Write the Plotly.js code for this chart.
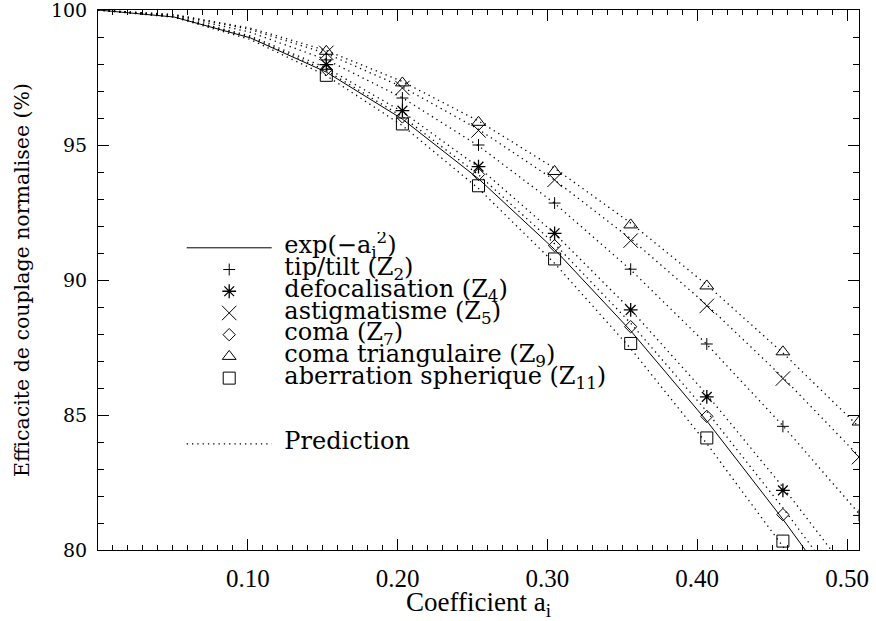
<!DOCTYPE html>
<html><head><meta charset="utf-8">
<script src="https://cdn.plot.ly/plotly-3.0.1.min.js"></script>
<style>html,body{margin:0;padding:0;background:#fff}#chart{width:876px;height:621px}</style>
</head><body><div id="chart"></div>
<script>
// Coefficient a_i sampling of the curves
const xLine = [0, 0.0508, 0.1016, 0.1524, 0.2032, 0.254, 0.3048, 0.3556, 0.4064, 0.4572, 0.508];
// Coefficient a_i of the measured points
const xMarkers = [0.1524, 0.2032, 0.254, 0.3048, 0.3556, 0.4064, 0.4572, 0.508];

// exp(-a_i^2) in %
const expCurve = [100, 99.74, 98.97, 97.70, 95.96, 93.75, 91.13, 88.12, 84.78, 81.14, 77.26];

// measured points (%)
const tipTilt    = [98.15, 96.74, 95.00, 92.85, 90.40, 87.63, 84.58, 81.28];
const defocus    = [97.98, 96.27, 94.20, 91.73, 88.89, 85.67, 82.21];
const astig      = [98.41, 97.11, 95.54, 93.71, 91.46, 89.04, 86.35, 83.44];
const coma       = [97.80, 96.04, 93.91, 91.27, 88.27, 84.95, 81.31];
const comaTri    = [98.47, 97.30, 95.84, 94.02, 92.04, 89.78, 87.34, 84.74];
const spherical  = [97.58, 95.78, 93.49, 90.78, 87.65, 84.15, 80.33];

// predictions (%)
const predTipTilt   = [100, 99.79, 99.18, 98.16, 96.75, 94.97, 92.84, 90.38, 87.62, 84.60, 81.35];
const predDefocus   = [100, 99.76, 99.04, 97.86, 96.23, 94.18, 91.72, 88.90, 85.76, 82.33, 78.66];
const predAstig     = [100, 99.82, 99.28, 98.39, 97.15, 95.58, 93.70, 91.53, 89.08, 86.39, 83.47];
const predComa      = [100, 99.75, 99.00, 97.76, 96.05, 93.90, 91.34, 88.40, 85.13, 81.56, 77.76];
const predComaTri   = [100, 99.83, 99.33, 98.50, 97.35, 95.89, 94.14, 92.11, 89.82, 87.30, 84.56];
const predSpherical = [100, 99.73, 98.91, 97.57, 95.72, 93.39, 90.62, 87.46, 83.94, 80.13, 76.07];

const xTickVals = [0.1, 0.2, 0.3, 0.4, 0.5];
const xTickText = ['0.10', '0.20', '0.30', '0.40', '0.50'];
const yTickVals = [80, 85, 90, 95, 100];

const names = {
  exp: 'exp(\u2212a<sub>i</sub><sup>2</sup>)',
  tip: 'tip/tilt (Z<sub>2</sub>)',
  def: 'defocalisation (Z<sub>4</sub>)',
  ast: 'astigmatisme (Z<sub>5</sub>)',
  com: 'coma (Z<sub>7</sub>)',
  tri: 'coma triangulaire (Z<sub>9</sub>)',
  sph: 'aberration spherique (Z<sub>11</sub>)',
  pred: 'Prediction'
};

const LBIG = s => '<span style="font-size:24px">\u00A0' + s + '</span>';

const black = '#000';
function markerTrace(y, name, symbol, size, lw) {
  return {
    x: xMarkers.slice(0, y.length), y: y, mode: 'markers', type: 'scatter',
    name: LBIG(name), legendgroup: 'meas',
    marker: {symbol: symbol, size: size, color: black, line: {color: black, width: lw || 1}},
    hoverinfo: 'x+y'
  };
}
function predTrace(y, show) {
  return {
    x: xLine, y: y, mode: 'lines', type: 'scatter',
    name: LBIG(names.pred), legendgroup: 'pred', showlegend: show,
    line: {color: black, width: 1.3, dash: '1.3px,4px'}
  };
}

const data = [
  {x: xLine, y: expCurve, mode: 'lines', type: 'scatter', name: LBIG(names.exp), legendgroup: 'meas',
   line: {color: black, width: 1}},
  markerTrace(tipTilt, names.tip, 'cross-thin-open', 8.5),
  markerTrace(defocus, names.def, 'asterisk-open', 11.5, 1.3),
  markerTrace(astig, names.ast, 'x-thin-open', 14.5),
  markerTrace(coma, names.com, 'diamond-open', 9.5),
  markerTrace(comaTri, names.tri, 'triangle-up-open', 12),
  markerTrace(spherical, names.sph, 'square-open', 12),
  predTrace(predTipTilt, true),
  predTrace(predDefocus, false),
  predTrace(predAstig, false),
  predTrace(predComa, false),
  predTrace(predComaTri, false),
  predTrace(predSpherical, false)
];

const layout = {
  width: 876, height: 621,
  margin: {l: 98, r: 17, t: 10, b: 71, pad: 0},
  paper_bgcolor: '#fff', plot_bgcolor: '#fff',
  showlegend: true,
  legend: {
    x: 0.11, y: 0.589, xref: 'paper', yref: 'paper', xanchor: 'left', yanchor: 'top',
    bgcolor: 'rgba(0,0,0,0)', borderwidth: 0,
    font: {family: 'DejaVu Serif', size: 14.4, color: black},
    itemwidth: 85, tracegroupgap: 44, traceorder: 'grouped'
  },
  xaxis: {
    range: [0, 0.508], showgrid: false, zeroline: false,
    showline: true, linecolor: black, linewidth: 1, mirror: 'ticks',
    ticks: 'inside', ticklen: 11, tickwidth: 1, tickcolor: black,
    tickvals: xTickVals, ticktext: xTickText,
    tickfont: {family: 'Liberation Serif', size: 25, color: black},
    ticklabelstandoff: 6, ticklabeloverflow: 'allow',
    minor: {ticks: 'inside', ticklen: 5, tickwidth: 1, tickcolor: black, dtick: 0.01, tick0: 0, showgrid: false},
    title: {text: 'Coefficient a<sub>i</sub>', font: {family: 'Liberation Serif', size: 27, color: black}, standoff: 2}
  },
  yaxis: {
    range: [80, 100], showgrid: false, zeroline: false,
    showline: true, linecolor: black, linewidth: 1, mirror: 'ticks',
    ticks: 'inside', ticklen: 11, tickwidth: 1, tickcolor: black,
    tickvals: yTickVals, ticktext: yTickVals.map(String),
    tickfont: {family: 'DejaVu Serif', size: 19, color: black},
    ticklabelstandoff: 6, ticklabeloverflow: 'allow',
    minor: {ticks: 'inside', ticklen: 6, tickwidth: 1, tickcolor: black, dtick: 1, tick0: 80, showgrid: false},
    title: {text: 'Efficacite de couplage normalisee (%)', font: {family: 'DejaVu Serif', size: 20.5, color: black}, standoff: 15}
  }
};

Plotly.newPlot('chart', data, layout, {displayModeBar: false, staticPlot: true});
</script>
</body></html>
